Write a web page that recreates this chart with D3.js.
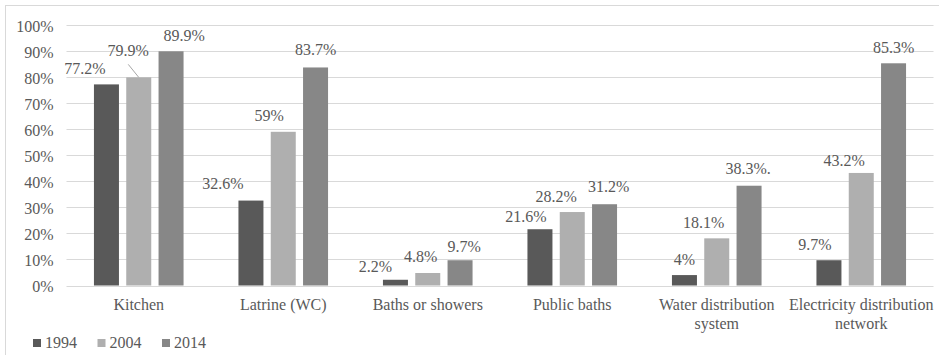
<!DOCTYPE html>
<html>
<head>
<meta charset="utf-8">
<script src="https://cdn.jsdelivr.net/npm/d3@7"></script>
<style>
  html, body { margin: 0; padding: 0; background: #ffffff; }
  svg { display: block; }
  svg text { font-family: "Liberation Serif", "Tinos", "Times New Roman", "DejaVu Serif", serif; fill: #595959; }
</style>
</head>
<body>
<svg id="chart" width="939" height="355"></svg>
<script>
// Facilities available in dwellings, share of households (%)
const categories = [
  "Kitchen",
  "Latrine (WC)",
  "Baths or showers",
  "Public baths",
  "Water distribution system",
  "Electricity distribution network"
];
const years = ["1994", "2004", "2014"];
const values1994 = [77.2, 32.6, 2.2, 21.6, 4, 9.7];
const values2004 = [79.9, 59, 4.8, 28.2, 18.1, 43.2];
const values2014 = [89.9, 83.7, 9.7, 31.2, 38.3, 85.3];
const yTicks = [0, 10, 20, 30, 40, 50, 60, 70, 80, 90, 100];

// Label text follows the value; one published label carries a stray period.
const labelSuffix2014 = ["", "", "", "", ".", ""];

// Hand placement of the data labels (dx, dy from the default spot above each bar)
const labelNudge = [
  [[-21.5, 0], [-28, -1.5], [-20, 3], [-14, 3], [0, 0], [-14, 0]],
  [[-10.5, -10.5], [-14, -0.5], [-7, 0], [-16, 0], [-13, 0], [-17, 4]],
  [[13, 0.5], [0, -1.5], [4, 2], [4, -1.5], [-1, -1.5], [0, 0]]
];

const colors = ["#595959", "#afafaf", "#878787"];
const FONT = "Liberation Serif, Tinos, Times New Roman, DejaVu Serif, serif";

const svg = d3.select("#chart");
const W = 939, H = 355;
const margin = { left: 66.5, right: 5.5, top: 25, bottom: 69.5 };
const plotW = W - margin.left - margin.right;
const plotH = H - margin.top - margin.bottom;

// chart frame
svg.append("rect")
  .attr("x", 5.5).attr("y", 5.5)
  .attr("width", W + 10).attr("height", H + 10)
  .attr("fill", "none").attr("stroke", "#d9d9d9").attr("stroke-width", 1);

const g = svg.append("g").attr("transform", `translate(${margin.left},${margin.top})`)
  .attr("font-family", FONT);

const x0 = d3.scaleBand().domain(categories).range([0, plotW]).paddingInner(0).paddingOuter(0);
const x1 = d3.scaleBand().domain(years)
  .range([x0.bandwidth() / 2 - 44.8, x0.bandwidth() / 2 + 44.8])
  .paddingInner(0.226).paddingOuter(0);
const y = d3.scaleLinear().domain([0, 100]).range([plotH, 0]);

// gridlines
g.append("g")
  .selectAll("line")
  .data(yTicks)
  .join("line")
  .attr("x1", 0).attr("x2", plotW)
  .attr("y1", d => Math.round(y(d)) + 0.5)
  .attr("y2", d => Math.round(y(d)) + 0.5)
  .attr("stroke", "#d9d9d9").attr("stroke-width", 1);

// y axis labels
const yAxis = d3.axisLeft(y).tickValues(yTicks).tickFormat(d => d + "%").tickSize(0).tickPadding(13);
const ya = g.append("g").call(yAxis).attr("font-family", FONT).attr("font-size", 16);
ya.select(".domain").remove();
ya.selectAll("text")
  .attr("fill", "#595959")
  .attr("dy", "0.4em");

const series = [values1994, values2004, values2014];

// bars
series.forEach((vals, si) => {
  g.append("g")
    .selectAll("rect")
    .data(vals)
    .join("rect")
    .attr("x", (d, i) => x0(categories[i]) + x1(years[si]))
    .attr("y", d => y(d))
    .attr("width", x1.bandwidth())
    .attr("height", d => y(0) - y(d))
    .attr("fill", colors[si]);
});

// data labels
series.forEach((vals, si) => {
  g.append("g")
    .selectAll("text")
    .data(vals)
    .join("text")
    .attr("x", (d, i) => x0(categories[i]) + x1(years[si]) + x1.bandwidth() / 2 + labelNudge[si][i][0])
    .attr("y", (d, i) => y(d) - 10.5 + labelNudge[si][i][1])
    .attr("text-anchor", "middle")
    .attr("font-size", 16)
    .text((d, i) => d + "%" + (si === 2 ? labelSuffix2014[i] : ""));
});

// leader line for the shifted 2004 kitchen label
{
  const i = 0, si = 1;
  const bx = x0(categories[i]) + x1(years[si]) + x1.bandwidth() / 2;
  const lx = bx + labelNudge[si][i][0];
  const ly = y(values2004[i]) - 10.5 + labelNudge[si][i][1];
  g.append("line")
    .attr("x1", lx).attr("y1", ly + 8)
    .attr("x2", bx).attr("y2", y(values2004[i]))
    .attr("stroke", "#a6a6a6").attr("stroke-width", 1);
}

// category labels, wrapped to the band width
const cat = g.append("g");
categories.forEach(c => {
  const cx = x0(c) + x0.bandwidth() / 2;
  const t = cat.append("text")
    .attr("x", cx)
    .attr("y", plotH + 24.5)
    .attr("text-anchor", "middle")
    .attr("font-size", 16);
  const words = c.split(" ");
  let line = [];
  let ts = t.append("tspan").attr("x", cx).attr("dy", 0);
  words.forEach(w => {
    line.push(w);
    ts.text(line.join(" "));
    if (ts.node().getComputedTextLength() > 148 && line.length > 1) {
      line.pop();
      ts.text(line.join(" "));
      line = [w];
      ts = t.append("tspan").attr("x", cx).attr("dy", 18.5).text(w);
    }
  });
});

// legend
const legend = svg.append("g").attr("transform", "translate(33,339)").attr("font-family", FONT);
let lx = 0;
years.forEach((yr, si) => {
  const item = legend.append("g").attr("transform", `translate(${lx},0)`);
  item.append("rect").attr("x", 0).attr("y", 0).attr("width", 8).attr("height", 8).attr("fill", colors[si]);
  const t = item.append("text").attr("x", 12).attr("y", 8.5).attr("font-size", 16).text(yr);
  lx += 12 + t.node().getComputedTextLength() + 20.5;
});
</script>
</body>
</html>
